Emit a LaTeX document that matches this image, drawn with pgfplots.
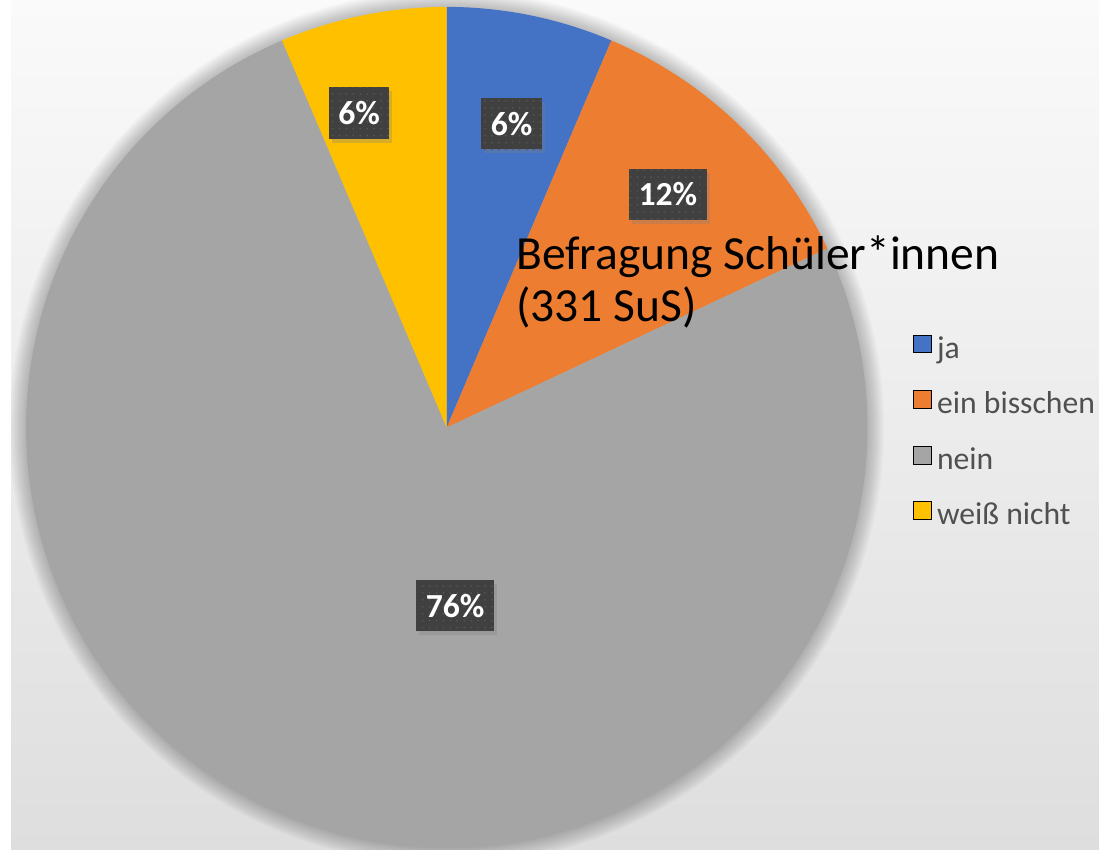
\documentclass[border=0pt]{standalone}
\usepackage{pgfplots}
\pgfplotsset{compat=1.18}
\usepackage{pgfplotstable}
\usepackage{fontspec}
\setmainfont{Carlito}
\usetikzlibrary{patterns.meta,shadows}

\definecolor{cja}{HTML}{4472C4}
\definecolor{cbis}{HTML}{ED7D31}
\definecolor{cnein}{HTML}{A5A5A5}
\definecolor{cwn}{HTML}{FFC000}
\definecolor{bgtop}{HTML}{FAFAFA}
\definecolor{bgbot}{HTML}{DEDEDE}
\definecolor{legtext}{HTML}{505050}
\definecolor{lblbg}{HTML}{404040}
\definecolor{lbldot}{HTML}{545454}

% share of answers in percent (331 SuS)
\pgfplotstableread{
idx share
0 6.4
1 11.6
2 75.6
3 6.4
}\piedata

\pgfkeys{/pgf/number format/.cd, fixed, precision=0, assume math mode=true}

\tikzset{lbl/.style={font=\bfseries\fontsize{34}{34}\selectfont, text=white,
    inner xsep=9.5pt, inner ysep=0pt, minimum height=52pt,
    drop shadow={shadow xshift=3pt, shadow yshift=-4pt, opacity=0.3},
    preaction={fill=lblbg},
    pattern={Dots[distance=7pt, radius=1pt]}, pattern color=lbldot}}

\begin{document}
\pgfplotstablegetelem{0}{share}\of\piedata\let\sA\pgfplotsretval
\pgfplotstablegetelem{1}{share}\of\piedata\let\sB\pgfplotsretval
\pgfplotstablegetelem{2}{share}\of\piedata\let\sC\pgfplotsretval
\pgfplotstablegetelem{3}{share}\of\piedata\let\sD\pgfplotsretval
\pgfmathsetmacro\aA{90}
\pgfmathsetmacro\aB{\aA-3.6*\sA}
\pgfmathsetmacro\aC{\aB-3.6*\sB}
\pgfmathsetmacro\aD{\aC-3.6*\sC}
\pgfmathsetmacro\aE{\aD-3.6*\sD}
\begin{tikzpicture}
\useasboundingbox (0,0) rectangle (1099pt,858pt);
\fill[bgbot] (0,0) rectangle (1099pt,858pt);
\shade[top color=bgtop, bottom color=bgbot] (0,0) rectangle (1099pt,858pt);
\begin{scope}
\clip (0,0) rectangle (1099pt,858pt);
\foreach \i in {1,...,12}{
  \fill[black, opacity=0.018] (440pt,426pt) circle[radius={425pt+1.4pt*\i}];
}
\end{scope}
\begin{axis}[
  at={(0,0)}, anchor=south west,
  x=1pt, y=1pt, xmin=0, xmax=1099, ymin=0, ymax=858,
  enlargelimits=false,
  hide axis, clip=false,
  legend cell align=left,
  legend image code/.code={\fill[#1] (0pt,-2pt) rectangle (18pt,16pt);},
  legend style={at={(axis cs:911,520)}, anchor=north west, draw=none, fill=none,
    inner sep=0pt, outer sep=0pt, row sep=25.5pt,
    font=\fontsize{32}{32}\selectfont, text=legtext,
    nodes={inner sep=0pt, text height=22pt, text depth=7pt},
    /tikz/every odd column/.append style={column sep=6pt}},
]
\addplot[draw=none, forget plot] coordinates {(440,426)};
\fill[cja] (axis cs:440,426) -- ++(\aA:425pt) arc[start angle=\aA, end angle=\aB, radius=425pt] -- cycle;
\fill[cbis] (axis cs:440,426) -- ++(\aB:425pt) arc[start angle=\aB, end angle=\aC, radius=425pt] -- cycle;
\fill[cnein] (axis cs:440,426) -- ++(\aC:425pt) arc[start angle=\aC, end angle=\aD, radius=425pt] -- cycle;
\fill[cwn] (axis cs:440,426) -- ++(\aD:425pt) arc[start angle=\aD, end angle=\aE, radius=425pt] -- cycle;

\node[lbl] at (axis cs:505.5,733) {\pgfmathprintnumber{\sA}\%};
\node[lbl] at (axis cs:663.5,661.5) {\pgfmathprintnumber{\sB}\%};
\node[lbl] at (axis cs:448.5,246) {\pgfmathprintnumber{\sC}\%};
\node[lbl] at (axis cs:351.5,744) {\pgfmathprintnumber{\sD}\%};

\node[anchor=base west, inner sep=0pt, font=\fontsize{48}{53}\selectfont] at (axis cs:510,586) {Befragung Schüler*innen};
\node[anchor=base west, inner sep=0pt, font=\fontsize{48}{53}\selectfont] at (axis cs:510,533) {(331 SuS)};

\addlegendimage{fill=cja}
\addlegendentry{ja}
\addlegendimage{fill=cbis}
\addlegendentry{ein bisschen}
\addlegendimage{fill=cnein}
\addlegendentry{nein}
\addlegendimage{fill=cwn}
\addlegendentry{weiß nicht}
\end{axis}
\end{tikzpicture}
\end{document}
